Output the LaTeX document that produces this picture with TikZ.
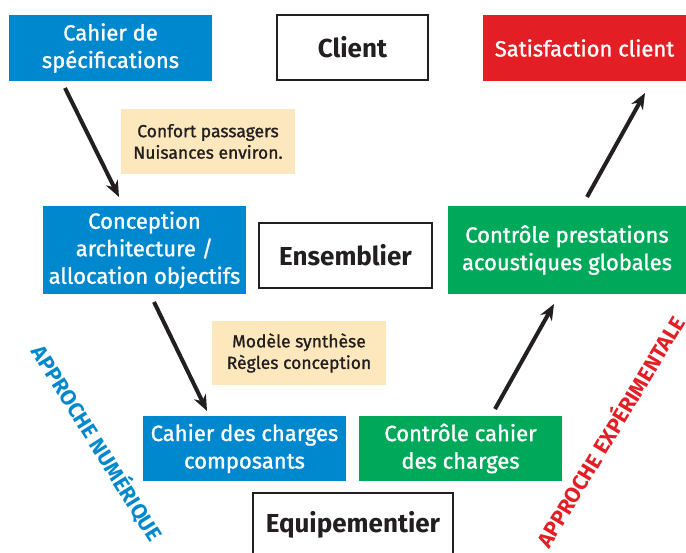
\documentclass[tikz,border=0pt]{standalone}
\usepackage{fontspec}
\setmainfont{Fira Sans}
\newfontfamily\medfont{Fira Sans}[FakeBold=1.2]
\usetikzlibrary{arrows.meta}
\definecolor{vblue}{HTML}{0088CE}
\definecolor{vgreen}{HTML}{00A859}
\definecolor{vred}{HTML}{E31E24}
\definecolor{vyellow}{HTML}{FDE8BE}
\definecolor{vdark}{HTML}{231F20}
\begin{document}
\begin{tikzpicture}[x=1pt,y=-1pt,
  base/.style={anchor=north west, inner sep=0pt, outer sep=0pt, align=center},
  colbox/.style={base, text=white, font=\medfont\fontsize{22}{27.5}\selectfont},
  bluebox/.style={colbox, fill=vblue},
  greenbox/.style={colbox, fill=vgreen},
  redbox/.style={colbox, fill=vred},
  notebox/.style={base, fill=vyellow, text=vdark, font=\medfont\fontsize{17.5}{21.5}\selectfont},
  levelbox/.style={base, draw=vdark, line width=2.5pt, fill=white, text=vdark, font=\fontsize{26}{30}\selectfont\bfseries},
  arr/.style={draw=vdark, line width=4pt, -{Stealth[length=16pt,width=13pt,inset=5pt]}},
  approach/.style={inner sep=0pt, font=\fontsize{21.5}{25}\selectfont\bfseries}
]
\clip (0,0) rectangle (686,553);
\fill[white] (0,0) rectangle (686,553);

\node[bluebox, minimum width=203pt, minimum height=66pt] (spec) at (9,15) {Cahier de\\spécifications};
\node[levelbox, minimum width=151pt, minimum height=65pt] (client) at (277,15) {Client};
\node[redbox, minimum width=203pt, minimum height=66pt] (sat) at (483,15) {Satisfaction client};
\node[notebox, minimum width=174pt, minimum height=65pt] (note1) at (121,109) {Confort passagers\\Nuisances environ.};
\node[bluebox, minimum width=203pt, minimum height=88pt] (conc) at (43,206) {Conception\\architecture /\\allocation objectifs};
\node[levelbox, minimum width=173pt, minimum height=65pt] (ens) at (259,223) {Ensemblier};
\node[greenbox, minimum width=238pt, minimum height=88pt] (ctrlp) at (448,206) {Contrôle prestations\\acoustiques globales};
\node[notebox, minimum width=174pt, minimum height=64pt] (note2) at (212,321) {Modèle synthèse\\Règles conception};
\node[bluebox, minimum width=203pt, minimum height=65pt] (cdc) at (143,416) {Cahier des charges\\composants};
\node[greenbox, minimum width=203pt, minimum height=65pt] (ctrlc) at (359,416) {Contrôle cahier\\des charges};
\node[levelbox, minimum width=200pt, minimum height=75pt] (equip) at (253,493) {};
\node[text=vdark, font=\fontsize{26}{30}\selectfont\bfseries, anchor=base] (equiplabel) at (353,532) {Equipementier};

\draw[arr] ([shift={(56,7)}]spec.south west) -- ([shift={(76,-9)}]conc.north west);
\draw[arr] ([shift={(111,8)}]conc.south west) -- ([shift={(64,-5)}]cdc.north west);
\draw[arr] ([shift={(136,-7)}]ctrlc.north west) -- ([shift={(106,10)}]ctrlp.south west);
\draw[arr] ([shift={(139,-9)}]ctrlp.north west) -- ([shift={(162,12)}]sat.south west);

\node[approach, text=vblue, rotate=-58] (num) at (98,443) {APPROCHE NUMÉRIQUE};
\node[approach, text=vred, rotate=59] (exp) at (609,431) {APPROCHE EXPÉRIMENTALE};
\end{tikzpicture}
\end{document}
